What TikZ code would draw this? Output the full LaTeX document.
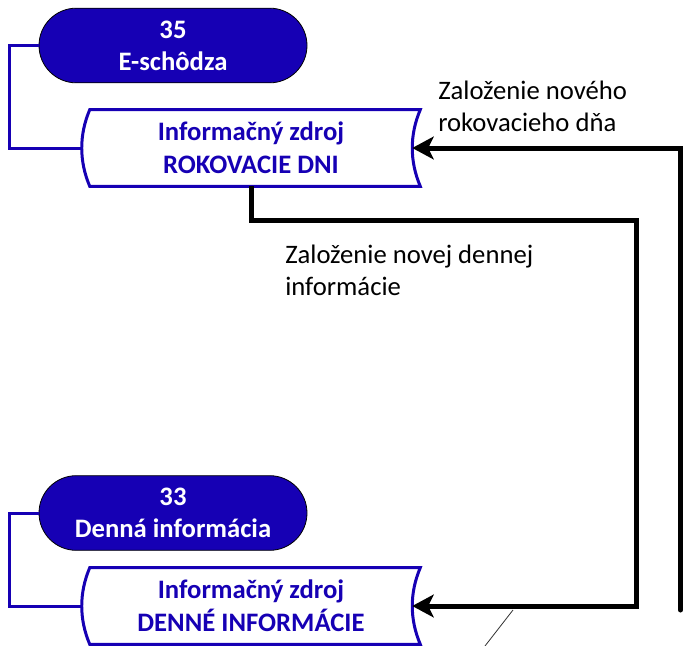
\documentclass[tikz,border=0pt]{standalone}
\usepackage{fontspec}
\setmainfont{Carlito}
\usetikzlibrary{arrows.meta,shapes.misc,calc}
\definecolor{zblue}{RGB}{22,0,180}
\tikzset{
  term/.style={rounded rectangle, fill=zblue, draw=black, line width=0.6pt,
    minimum width=201pt, minimum height=56pt, inner sep=0pt, text=white,
    font=\fontsize{20}{24}\selectfont\bfseries, align=center},
  zdroj/.style={minimum width=253.5pt, minimum height=57pt, inner sep=0pt,
    text=zblue, font=\fontsize{20}{25}\selectfont\bfseries, align=center},
  spoj/.style={draw=zblue, line width=2.25pt},
  tok/.style={line width=3.75pt, -{Stealth[length=16pt,width=17pt,inset=4pt]}},
  popis/.style={font=\fontsize{20}{24}\selectfont, align=left, anchor=north west, inner sep=0pt}
}
\begin{document}
\begin{tikzpicture}[x=0.75pt,y=-0.75pt]
  \useasboundingbox (0,0) rectangle (683,646);
  % terminatory
  \node[term] (t35) at (173,45.5) {35\\E-schôdza};
  \node[term] (t33) at (173,513) {33\\Denná informácia};
  % informacne zdroje
  \node[zdroj] (rd) at (251,148) {Informačný zdroj\\ROKOVACIE DNI};
  \node[zdroj] (di) at (251,606) {Informačný zdroj\\DENNÉ INFORMÁCIE};
  \foreach \z in {rd,di} {
    \draw[zblue, line width=2.25pt]
      ($(\z.north west)+(8,0)$) -- (\z.north east)
      .. controls +(-10.67,25) and +(-10.67,-25) .. (\z.south east)
      -- ($(\z.south west)+(8,0)$)
      .. controls +(-10.67,-25) and +(-10.67,25) .. cycle;
  }
  % spojenia
  \draw[spoj] (t35.west) -- ++(-29,0) |- (rd.west);
  \draw[spoj] (t33.west) -- ++(-29,0) |- (di.west);
  % toky
  \coordinate (zdola) at (680.5,610);
  \draw[tok, line cap=round] (zdola) |- ($(rd.east)+(-8,0)$);
  \draw[tok] (rd.south) |- (636,220) |- ($(di.east)+(-8,0)$);
  \node[popis] (l1) at (438,81) {Založenie nového\\rokovacieho dňa};
  \node[popis] (l2) at (285,245) {Založenie novej dennej\\informácie};
  \coordinate (c1) at (513,610);
  \coordinate (c2) at (485,646);
  \draw[line width=0.6pt, black!80] (c1) -- (c2);
\end{tikzpicture}
\end{document}
